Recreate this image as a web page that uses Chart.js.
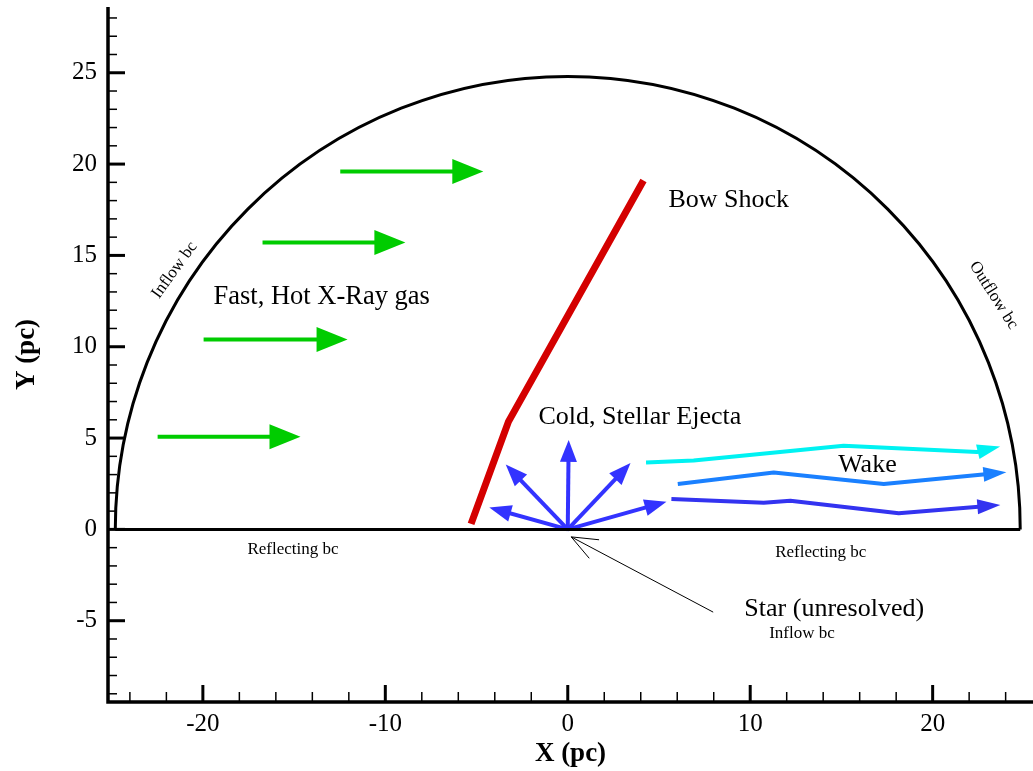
<!DOCTYPE html>
<html>
<head>
<meta charset="utf-8">
<script src="https://cdn.jsdelivr.net/npm/chart.js@4.4.0/dist/chart.umd.min.js"></script>
<style>
  html, body { margin: 0; padding: 0; background: #fff; }
  #wrap { width: 1033px; height: 771px; }
</style>
</head>
<body>
<div id="wrap"><canvas id="chart"></canvas></div>
<script>
// axes
const xTicks = [-20, -10, 0, 10, 20];
const yTicks = [-5, 0, 5, 10, 15, 20, 25];
const xRange = [-25.2, 25.5];
const yRange = [-9.45, 28.6];
const domainRadius = 24.8;

// boundaries
const baseLine = [[-24.8, 0], [24.8, 0]];
const bowShock = [[-5.3, 0.3], [-3.25, 5.9], [4.15, 19.1]];

// flow arrows (tail -> tip)
const inflowArrows = [
  [[-12.47, 19.6], [-4.63, 19.6]],
  [[-16.73, 15.7], [-8.9, 15.7]],
  [[-19.96, 10.4], [-12.07, 10.4]],
  [[-22.48, 5.07], [-14.65, 5.07]]
];
const ejectaTips = [[-4.3, 1.2], [-3.4, 3.55], [0.05, 4.9], [3.44, 3.63], [5.41, 1.52]];
const wakeCyan = [[4.29, 3.66], [6.9, 3.77], [15.12, 4.58], [22.43, 4.24], [23.7, 4.54]];
const wakeMid = [[6.03, 2.49], [11.29, 3.11], [17.32, 2.49], [24.04, 3.13]];
const wakeDark = [[5.68, 1.66], [10.74, 1.46], [12.2, 1.57], [18.14, 0.88], [23.71, 1.34]];
const starPointer = [[7.97, -4.53], [0.19, -0.41]];

// annotations
const labels = [
  { text: 'Bow Shock', x: 5.52, y: 18.04, size: 26 },
  { text: 'Fast, Hot X-Ray gas', x: -19.42, y: 12.72, size: 26.5 },
  { text: 'Cold, Stellar Ejecta', x: -1.61, y: 6.17, size: 26 },
  { text: 'Wake', x: 14.82, y: 3.53, size: 26 },
  { text: 'Star (unresolved)', x: 9.68, y: -4.38, size: 26 },
  { text: 'Inflow bc', x: 11.04, y: -5.7, size: 17 },
  { text: 'Reflecting bc', x: -17.56, y: -1.08, size: 17 },
  { text: 'Reflecting bc', x: 11.37, y: -1.25, size: 17 },
  { text: 'Inflow bc', x: -21.55, y: 14.2, size: 17, rot: -54, center: true },
  { text: 'Outflow bc', x: 23.34, y: 12.82, size: 17, rot: 57.6, center: true }
];

const serif = "'Liberation Serif', 'Times New Roman', serif";
const toPts = arr => arr.map(p => ({ x: p[0], y: p[1] }));

function lineSet(pts, color, width, head) {
  return {
    data: toPts(pts),
    showLine: true,
    borderColor: color,
    backgroundColor: color,
    borderWidth: width,
    borderCapStyle: 'butt',
    borderJoinStyle: 'round',
    pointRadius: 0,
    head: head
  };
}

const datasets = [];
datasets.push(lineSet(baseLine, '#000', 3));
datasets.push(lineSet(bowShock, '#d40000', 7));
inflowArrows.forEach(a => datasets.push(lineSet(a, '#00cc00', 4, { len: 31, half: 12.5 })));
ejectaTips.forEach(t => datasets.push(lineSet([[0, 0], t], '#3333ff', 4, { len: 22, half: 8.5 })));
datasets.push(lineSet(wakeCyan, '#00f2f2', 4, { len: 23, half: 7.5 }));
datasets.push(lineSet(wakeMid, '#1a80ff', 4, { len: 23, half: 7.5 }));
datasets.push(lineSet(wakeDark, '#3333f0', 4, { len: 23, half: 7.5 }));
datasets.push(lineSet(starPointer, '#000', 1, { len: 28, spread: 22, open: true }));

function headGeom(chart, i) {
  const pts = chart.getDatasetMeta(i).data;
  const a = pts[pts.length - 2], b = pts[pts.length - 1];
  return { b: b, ang: Math.atan2(b.y - a.y, b.x - a.x) };
}

const framePlugin = {
  id: 'frame',
  beforeDatasetsDraw(chart) {
    const { ctx, scales: { x, y } } = chart;
    const cx = x.getPixelForValue(0), cy = y.getPixelForValue(0);
    const rx = x.getPixelForValue(domainRadius) - cx;
    const ry = cy - y.getPixelForValue(domainRadius);
    ctx.save();
    ctx.strokeStyle = '#000';
    ctx.lineWidth = 3;
    ctx.beginPath();
    ctx.ellipse(cx, cy, rx, ry, 0, Math.PI, 2 * Math.PI);
    ctx.stroke();
    ctx.restore();
  },
  // keep the shaft behind the filled head so the tip stays sharp
  beforeDatasetDraw(chart, args) {
    const ds = chart.data.datasets[args.index];
    if (!ds.head || ds.head.open) return;
    const { ctx } = chart;
    const { b, ang } = headGeom(chart, args.index);
    const dx = Math.cos(ang), dy = Math.sin(ang), L = 5000;
    const bx = b.x - (ds.head.len - 3) * dx, by = b.y - (ds.head.len - 3) * dy;
    ctx.save();
    ctx.beginPath();
    ctx.moveTo(bx - dy * L, by + dx * L);
    ctx.lineTo(bx + dy * L, by - dx * L);
    ctx.lineTo(bx + dy * L - dx * L, by - dx * L - dy * L);
    ctx.lineTo(bx - dy * L - dx * L, by + dx * L - dy * L);
    ctx.closePath();
    ctx.clip();
  },
  afterDatasetDraw(chart, args) {
    const ds = chart.data.datasets[args.index];
    if (!ds.head || ds.head.open) return;
    chart.ctx.restore();
  },
  afterDatasetsDraw(chart) {
    const { ctx, chartArea: ca, scales: { x, y } } = chart;
    ctx.save();

    // arrow heads
    chart.data.datasets.forEach((ds, i) => {
      if (!ds.head) return;
      const { b, ang } = headGeom(chart, i);
      const h = ds.head;
      if (h.open) {
        const s = h.spread * Math.PI / 180;
        ctx.strokeStyle = ds.borderColor;
        ctx.lineWidth = 1;
        ctx.beginPath();
        ctx.moveTo(b.x - h.len * Math.cos(ang - s), b.y - h.len * Math.sin(ang - s));
        ctx.lineTo(b.x, b.y);
        ctx.lineTo(b.x - h.len * Math.cos(ang + s), b.y - h.len * Math.sin(ang + s));
        ctx.stroke();
      } else {
        const bx = b.x - h.len * Math.cos(ang), by = b.y - h.len * Math.sin(ang);
        ctx.fillStyle = ds.borderColor;
        ctx.beginPath();
        ctx.moveTo(b.x, b.y);
        ctx.lineTo(bx + h.half * Math.sin(ang), by - h.half * Math.cos(ang));
        ctx.lineTo(bx - h.half * Math.sin(ang), by + h.half * Math.cos(ang));
        ctx.closePath();
        ctx.fill();
      }
    });

    // axis lines and inward ticks
    ctx.strokeStyle = '#000';
    ctx.lineWidth = 3.5;
    ctx.beginPath();
    ctx.moveTo(ca.left, ca.top);
    ctx.lineTo(ca.left, ca.bottom);
    ctx.lineTo(ca.right, ca.bottom);
    ctx.stroke();

    for (let v = Math.ceil(yRange[0]); v <= yRange[1]; v++) {
      const major = yTicks.includes(v);
      const py = y.getPixelForValue(v);
      ctx.lineWidth = major ? 3 : 1.5;
      ctx.beginPath();
      ctx.moveTo(ca.left, py);
      ctx.lineTo(ca.left + (major ? 17 : 9), py);
      ctx.stroke();
    }
    for (let v = -24; v <= xRange[1]; v += 2) {
      const major = xTicks.includes(v);
      const px = x.getPixelForValue(v);
      ctx.lineWidth = major ? 3 : 1.5;
      ctx.beginPath();
      ctx.moveTo(px, ca.bottom);
      ctx.lineTo(px, ca.bottom - (major ? 17 : 10));
      ctx.stroke();
    }

    // text annotations
    ctx.fillStyle = '#000';
    ctx.textBaseline = 'middle';
    labels.forEach(l => {
      ctx.save();
      ctx.font = l.size + 'px ' + serif;
      ctx.translate(x.getPixelForValue(l.x), y.getPixelForValue(l.y));
      if (l.rot) ctx.rotate(l.rot * Math.PI / 180);
      ctx.textAlign = l.center ? 'center' : 'left';
      ctx.fillText(l.text, 0, 0);
      ctx.restore();
    });
    ctx.restore();
  }
};

const chart = new Chart(document.getElementById('chart').getContext('2d'), {
  type: 'scatter',
  data: { datasets: datasets },
  options: {
    responsive: true,
    maintainAspectRatio: false,
    animation: false,
    layout: { padding: { top: 7, right: 0, left: 0, bottom: 0 } },
    plugins: { legend: { display: false }, tooltip: { enabled: false } },
    scales: {
      x: {
        type: 'linear',
        min: xRange[0],
        max: xRange[1],
        afterBuildTicks: s => { s.ticks = xTicks.map(v => ({ value: v })); },
        afterFit: s => { s.height = 69; s.paddingLeft = 0; s.paddingRight = 0; },
        grid: { display: false, drawTicks: false },
        border: { display: false },
        ticks: { color: '#000', font: { family: serif, size: 25 }, padding: 7, maxRotation: 0 },
        title: { display: true, text: 'X (pc)', color: '#000', font: { family: serif, size: 27, weight: 'bold' }, padding: { top: 0, bottom: 1 } }
      },
      y: {
        type: 'linear',
        min: yRange[0],
        max: yRange[1],
        afterBuildTicks: s => { s.ticks = yTicks.map(v => ({ value: v })); },
        afterFit: s => { s.width = 108; s.paddingTop = 0; s.paddingBottom = 0; },
        grid: { display: false, drawTicks: false },
        border: { display: false },
        ticks: { color: '#000', font: { family: serif, size: 25 }, padding: 11 },
        title: { display: true, text: 'Y (pc)', color: '#000', font: { family: serif, size: 27, weight: 'bold' }, padding: { top: 11, bottom: 0 } }
      }
    }
  },
  plugins: [framePlugin]
});
</script>
</body>
</html>
